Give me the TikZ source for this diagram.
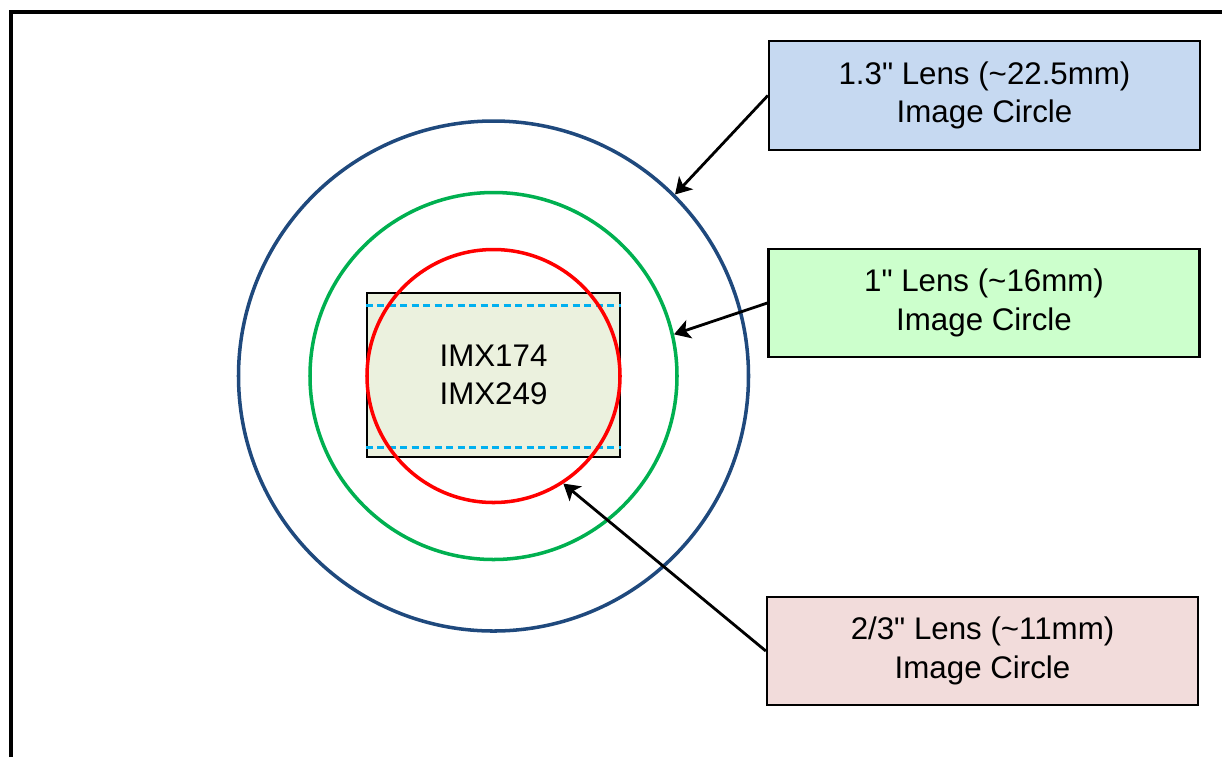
\documentclass[tikz,border=0pt]{standalone}
\usepackage{fontspec}
\setmainfont{Liberation Sans}[Ligatures=TeXOff]
\usepackage{tikz}
\usetikzlibrary{positioning, arrows.meta, calc}

\definecolor{ringblue}{RGB}{31,73,125}
\definecolor{ringgreen}{RGB}{0,176,80}
\definecolor{ringred}{RGB}{255,0,0}
\definecolor{dashcyan}{RGB}{0,176,240}
\definecolor{sensorfill}{RGB}{235,241,222}
\definecolor{lblblue}{RGB}{198,217,241}
\definecolor{lblgreen}{RGB}{204,255,204}
\definecolor{lblred}{RGB}{242,220,219}

\begin{document}
\begin{tikzpicture}[
  every node/.style={font=\fontsize{17.8}{22}\selectfont},
  >=Stealth,
  ring/.style={draw, circle, line width=2pt, inner sep=0pt, fill=none},
  sensor/.style={draw, line width=1.6pt, fill=sensorfill,
    minimum width=5.06cm, minimum height=3.28cm, align=center,
    inner sep=0pt},
  lbl/.style={draw, line width=1.3pt, align=center,
    minimum width=8.62cm, minimum height=2.17cm, inner sep=0pt},
  arr/.style={-{Stealth[length=3.2mm, width=3.8mm, inset=0.8mm]},
    line width=1.6pt},
  crop/.style={dashcyan, line width=1.5pt, dash pattern=on 0.14cm off 0.09cm},
]
\useasboundingbox (0,0) rectangle (24.44,-15.14);

%% Frame (top and left edges only)
\draw[line width=2.3pt] (0.22,-15.14) -- (0.22,-0.24) -- (24.44,-0.24);

%% Sensor with its crop lines
\node[sensor] (sensor) at (9.87,-7.50) {IMX174\\IMX249};
\draw[crop] ($(sensor.north west)+(0,-0.28)$) -- ($(sensor.north east)+(0,-0.28)$);
\draw[crop] ($(sensor.south west)+(0,0.22)$) -- ($(sensor.south east)+(0,0.22)$);

%% Image circles
\node[ring, ringblue,  minimum size=10.20cm] (c13) at (9.87,-7.52) {};
\node[ring, ringgreen, minimum size=7.34cm]  (c1)  at (9.87,-7.52) {};
\node[ring, ringred,   minimum size=5.06cm]  (c23) at (9.87,-7.52) {};

%% Labels
\node[lbl, fill=lblblue]  (l13) at (19.69,-1.91)
  {1.3" Lens (\char`\~22.5mm)\\Image Circle};
\node[lbl, fill=lblgreen] (l1)  at (19.68,-6.06)
  {1" Lens (\char`\~16mm)\\Image Circle};
\node[lbl, fill=lblred]   (l23) at (19.65,-13.02)
  {2/3" Lens (\char`\~11mm)\\Image Circle};

%% Pointers
\draw[arr] (l13.west) -- (c13.45);
\draw[arr] (l1.west)  -- (c1.13);
\draw[arr] (l23.west) -- (c23.-57);

\end{tikzpicture}
\end{document}
